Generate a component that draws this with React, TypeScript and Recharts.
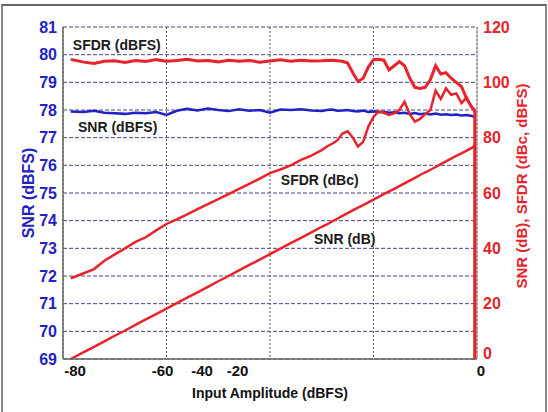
import React from 'react';
import { LineChart, Line, XAxis, YAxis, CartesianGrid, ReferenceDot, Label } from 'recharts';

// input amplitude (dBFS); the repeated last value is where the red curves drop to zero
const inputDbfs = [
  -78.5, -76, -74, -72, -70, -68, -66, -64, -62, -60, -58, -56, -54, -52, -50, -48, -46, -44, -42, -40, -38, -36, -34, -32,
  -30, -29, -28, -27, -26, -25, -24, -23, -22, -21, -20, -19, -18, -17, -16, -15, -14, -13, -12, -11, -10, -9, -8, -7, -6,
  -5, -4, -3, -2, -1, -0.4, -0.4,
];

// left axis (dBFS)
const snrDbfs = [
  77.95, 77.93, 77.97, 77.9, 77.88, 77.86, 77.9, 77.88, 77.93, 77.82, 77.97, 78.04, 77.98, 78.05, 78.0, 77.96, 78.03, 77.97,
  78.0, 77.9, 78.02, 78.0, 78.03, 77.98,
  77.96, 78.0, 78.02, 77.97, 77.98, 78.0, 77.96, 77.95, 77.98, 77.93, 77.95, 77.92, 77.94, 77.9, 77.92, 77.88, 77.9, 77.86,
  77.89, 77.85, 77.87, 77.84, 77.87, 77.83, 77.85, 77.82, 77.84, 77.8, 77.82, 77.78, 77.75, null,
];

// right axis
const sfdrDbfs = [
  108.3, 107.3, 106.8, 107.6, 107.8, 107.2, 107.9, 107.5, 108.2, 107.6, 107.9, 108.3, 107.7, 107.9, 107.4, 108, 107.6, 107.9,
  107.3, 107.7, 108.2, 107.6, 108, 107.7,
  107.8, 107.9, 108, 107.8, 107.6, 107, 103.5, 100.3, 101.5, 105.5, 108.2, 108.3, 108, 104.5, 106, 107.5, 106, 101.5, 98.2,
  97.8, 98.2, 101, 106, 103, 103.5, 101.5, 100, 98.5, 94, 91, 89.5, 0,
];

const sfdrDbc = [
  29.2, 31, 32.5, 35.5, 37.8, 40, 42.3, 44, 46.5, 48.8, 50.5, 52.3, 54.2, 56, 57.8, 59.6, 61.5, 63.3, 65.2, 67.2, 68.5, 70,
  72, 73.5,
  75.5, 76.8, 77.8, 79, 81.5, 82.3, 80, 76.8, 78.5, 84, 87.5, 89.5, 89, 88.2, 88.8, 90, 93, 88.5, 85.8, 86.8, 88.5, 90, 97,
  94, 97.8, 95.5, 96, 92.5, 94.5, 91, 90, 0,
];

const snrDb = [
  0, 2.5, 4.4, 6.4, 8.4, 10.3, 12.3, 14.3, 16.2, 18.2, 20.2, 22.2, 24.1, 26.1, 28.1, 30, 32, 34, 35.9, 37.9, 39.9, 41.9,
  43.8, 45.8,
  47.8, 48.7, 49.7, 50.7, 51.7, 52.7, 53.7, 54.7, 55.6, 56.6, 57.6, 58.6, 59.6, 60.6, 61.5, 62.5, 63.5, 64.5, 65.5, 66.5,
  67.5, 68.4, 69.4, 70.4, 71.4, 72.4, 73.4, 74.3, 75.3, 76.3, 77.3, 0,
];

const leftTicks = [69, 70, 71, 72, 73, 74, 75, 76, 77, 78, 79, 80, 81];
const rightTicks = [0, 20, 40, 60, 80, 100, 120];
const xTicks = [-80, -60, -40, -20, 0];

// curve names, placed in (input dBFS, right axis) units
const curveNotes = [
  { text: 'SFDR (dBFS)', x: -78.1, y: 113.5 },
  { text: 'SNR (dBFS)', x: -77.1, y: 83.8 },
  { text: 'SFDR (dBc)', x: -37.9, y: 64.7 },
  { text: 'SNR (dB)', x: -31.5, y: 43.4 },
];

// the original figure prints -40 and -20 off their grid lines
const xTickShift: Record<string, number> = { '-80': 12, '-60': -4, '-40': -68, '-20': -136, '0': 4 };

const data = inputDbfs.map((x, i) => ({
  x,
  snrDbfs: snrDbfs[i],
  sfdrDbfs: sfdrDbfs[i],
  sfdrDbc: sfdrDbc[i],
  snrDb: snrDb[i],
}));

const FONT = '"Liberation Sans", Arial, Helvetica, sans-serif';
const RED = '#e8232b';
const BLUE = '#2222c4';

function XTick({ x, y, payload }: any) {
  const shift = xTickShift[String(payload.value)] ?? 0;
  return (
    <text x={x + shift} y={y} dy="0.71em" textAnchor="middle" fill="#111" fontSize={15} fontWeight="bold" fontFamily={FONT}>
      {payload.value}
    </text>
  );
}

function RightTick({ x, y, payload }: any) {
  const lift = payload.value === 0 ? 6 : 0;
  return (
    <text x={x} y={y - lift} dy="0.355em" textAnchor="start" fill={RED} fontSize={16} fontWeight="bold" fontFamily={FONT}>
      {payload.value}
    </text>
  );
}

export default function App() {
  return (
    <div style={{ position: 'absolute', left: 0, top: 0, width: 548, height: 412, background: '#fff' }}>
      <div
        style={{
          position: 'absolute',
          left: 1,
          top: 4,
          width: 542,
          height: 420,
          borderTop: '2px solid #666',
          borderLeft: '2px solid #888',
          borderRight: '2px solid #888',
        }}
      />
      <div style={{ position: 'absolute', left: 0, top: 0 }}>
        <LineChart width={548} height={412} data={data} margin={{ top: 27, right: 11, bottom: 13, left: 3 }}>
          <CartesianGrid yAxisId="left" vertical={false} stroke="#45458a" strokeDasharray="4 2" />
          <CartesianGrid yAxisId="left" horizontal={false} stroke="#555" strokeDasharray="2 2" />
          <XAxis
            dataKey="x"
            type="number"
            domain={[-80, 0]}
            ticks={xTicks}
            interval={0}
            height={40}
            tickSize={4}
            tickMargin={2}
            tickLine={false}
            axisLine={{ stroke: '#666', strokeWidth: 1.5 }}
            tick={<XTick />}
          >
            <Label
              content={({ viewBox }: any) => (
                <text
                  x={viewBox.x + viewBox.width / 2}
                  y={viewBox.y + 34}
                  dominantBaseline="central"
                  textAnchor="middle"
                  fill="#111"
                  fontSize={14}
                  fontWeight="bold"
                  fontFamily={FONT}
                >
                  Input Amplitude (dBFS)
                </text>
              )}
            />
          </XAxis>
          <YAxis
            yAxisId="left"
            domain={[69, 81]}
            ticks={leftTicks}
            interval={0}
            width={60}
            tickSize={4}
            tickMargin={2}
            tickLine={false}
            axisLine={{ stroke: '#666', strokeWidth: 1.5 }}
            tick={{ fill: BLUE, fontSize: 16, fontWeight: 'bold', fontFamily: FONT }}
          >
            <Label
              content={({ viewBox }: any) => {
                const cx = viewBox.x + 25;
                const cy = viewBox.y + viewBox.height / 2;
                return (
                  <text
                    x={cx}
                    y={cy}
                    transform={`rotate(-90 ${cx} ${cy})`}
                    dominantBaseline="central"
                    textAnchor="middle"
                    fill={BLUE}
                    fontSize={16}
                    fontWeight="bold"
                    fontFamily={FONT}
                  >
                    SNR (dBFS)
                  </text>
                );
              }}
            />
          </YAxis>
          <YAxis
            yAxisId="right"
            orientation="right"
            domain={[0, 120]}
            ticks={rightTicks}
            interval={0}
            width={60}
            tickSize={4}
            tickMargin={2}
            tickLine={false}
            axisLine={{ stroke: '#999' }}
            tick={<RightTick />}
          >
            <Label
              content={({ viewBox }: any) => {
                const cx = viewBox.x + 44;
                const cy = viewBox.y + viewBox.height / 2 - 7;
                return (
                  <text
                    x={cx}
                    y={cy}
                    transform={`rotate(-90 ${cx} ${cy})`}
                    dominantBaseline="central"
                    textAnchor="middle"
                    fill={RED}
                    fontSize={15}
                    fontWeight="bold"
                    fontFamily={FONT}
                  >
                    SNR (dB), SFDR (dBc, dBFS)
                  </text>
                );
              }}
            />
          </YAxis>

          <Line yAxisId="left" dataKey="snrDbfs" stroke={BLUE} strokeWidth={2.5} dot={false} isAnimationActive={false} />
          <Line yAxisId="right" dataKey="snrDb" stroke={RED} strokeWidth={2.5} dot={false} isAnimationActive={false} />
          <Line yAxisId="right" dataKey="sfdrDbc" stroke={RED} strokeWidth={2.5} dot={false} isAnimationActive={false} />
          <Line yAxisId="right" dataKey="sfdrDbfs" stroke={RED} strokeWidth={3} dot={false} isAnimationActive={false} />

          {curveNotes.map((n) => (
            <ReferenceDot
              key={n.text}
              x={n.x}
              y={n.y}
              yAxisId="right"
              r={1}
              fill="none"
              stroke="none"
              label={({ viewBox }: any) => (
                <text
                  x={viewBox.x + viewBox.width / 2}
                  y={viewBox.y + viewBox.height / 2}
                  dominantBaseline="central"
                  textAnchor="start"
                  fill="#1a1a1a"
                  fontSize={14}
                  fontWeight="bold"
                  fontFamily={FONT}
                >
                  {n.text}
                </text>
              )}
            />
          ))}
        </LineChart>
      </div>
    </div>
  );
}
